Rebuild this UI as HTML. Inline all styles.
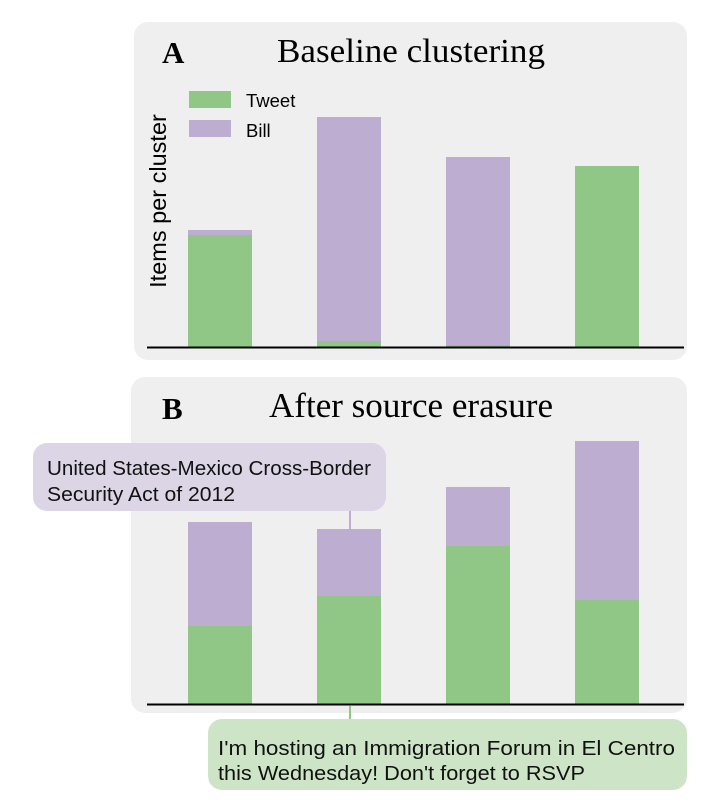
<!DOCTYPE html>
<html><head><meta charset="utf-8"><style>
body{margin:0;background:#fff;width:720px;height:805px;overflow:hidden}
svg{display:block}
</style></head><body>
<svg width="720" height="805" xmlns="http://www.w3.org/2000/svg">
<rect x="134" y="22" width="553" height="338" rx="14" fill="#efefef"/>
<rect x="131" y="377" width="556" height="336" rx="14" fill="#efefef"/>
<g font-family="Liberation Serif, serif" fill="#000">
<text x="162" y="63" font-size="31" font-weight="bold">A</text>
<text x="411" y="62" font-size="34" text-anchor="middle" textLength="268" lengthAdjust="spacingAndGlyphs">Baseline clustering</text>
<text x="162" y="419" font-size="31" font-weight="bold">B</text>
<text x="411" y="417" font-size="35" text-anchor="middle" textLength="284" lengthAdjust="spacingAndGlyphs">After source erasure</text>
</g>
<g font-family="Liberation Sans, sans-serif" font-size="18.5" fill="#000">
<rect x="189" y="91" width="42" height="17" fill="#90c786"/>
<text x="246" y="107">Tweet</text>
<rect x="189" y="120" width="42" height="17" fill="#bcadd1"/>
<text x="246" y="137">Bill</text>
<text transform="translate(166,201) rotate(-90)" font-size="23.5" text-anchor="middle">Items per cluster</text>
</g>
<rect x="188" y="230" width="64" height="117" fill="#bcadd1"/>
<rect x="188" y="235" width="64" height="112" fill="#90c786"/>
<rect x="317" y="117" width="64" height="230" fill="#bcadd1"/>
<rect x="317" y="341" width="64" height="6" fill="#90c786"/>
<rect x="446" y="157" width="64" height="190" fill="#bcadd1"/>
<rect x="446" y="345" width="64" height="2" fill="#90c786"/>
<rect x="575" y="166" width="64" height="181" fill="#90c786"/>
<line x1="147" y1="347.5" x2="684" y2="347.5" stroke="#000" stroke-width="2"/>
<rect x="188" y="522" width="64" height="182" fill="#bcadd1"/>
<rect x="188" y="626" width="64" height="78" fill="#90c786"/>
<rect x="317" y="529" width="64" height="175" fill="#bcadd1"/>
<rect x="317" y="596" width="64" height="108" fill="#90c786"/>
<rect x="446" y="487" width="64" height="217" fill="#bcadd1"/>
<rect x="446" y="546" width="64" height="158" fill="#90c786"/>
<rect x="575" y="441" width="64" height="263" fill="#bcadd1"/>
<rect x="575" y="600" width="64" height="104" fill="#90c786"/>
<line x1="147" y1="704.5" x2="684" y2="704.5" stroke="#000" stroke-width="2"/>
<line x1="350" y1="511" x2="350" y2="529" stroke="#bcadd1" stroke-width="2"/>
<rect x="33" y="443" width="353" height="68" rx="14" fill="#dcd5e6"/>
<line x1="350" y1="706" x2="350" y2="719" stroke="#90c786" stroke-width="2"/>
<rect x="208" y="719" width="479" height="71" rx="14" fill="#cde5c6"/>
<g font-family="Liberation Sans, sans-serif" font-size="20" fill="#111">
<text x="47" y="475" textLength="324" lengthAdjust="spacingAndGlyphs">United States-Mexico Cross-Border</text>
<text x="47" y="501" textLength="188" lengthAdjust="spacingAndGlyphs">Security Act of 2012</text>
<text x="218" y="755" textLength="457" lengthAdjust="spacingAndGlyphs">I'm hosting an Immigration Forum in El Centro</text>
<text x="218" y="780" textLength="367" lengthAdjust="spacingAndGlyphs">this Wednesday! Don't forget to RSVP</text>
</g>
</svg>
</body></html>
